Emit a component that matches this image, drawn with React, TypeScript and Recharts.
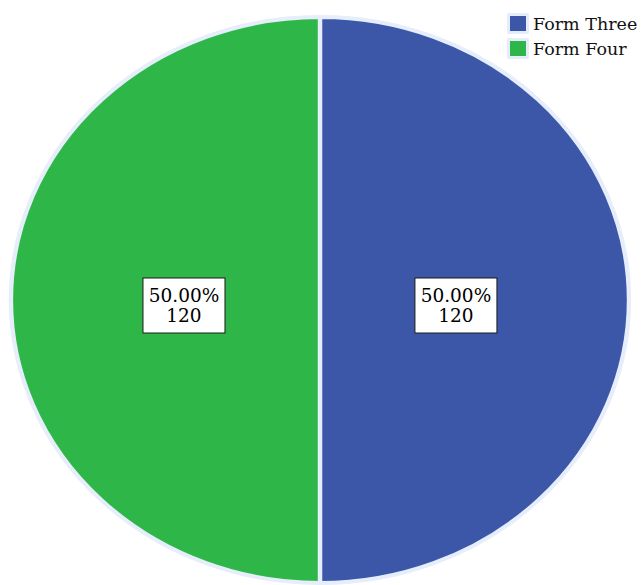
import { PieChart, Pie, Cell } from "recharts";

const categories = ["Form Three", "Form Four"];
const counts = [120, 120];
const sliceColors = ["#3D57A8", "#2EB748"];

// the original pie is a bit wider than tall, so the chart is stretched horizontally
const SX = 1.092;
const FONT = "'DejaVu Serif', serif";

const total = counts.reduce((a, b) => a + b, 0);
const data = categories.map((name, i) => ({ name, value: counts[i] }));

const RAD = Math.PI / 180;

function SliceLabel(props: any) {
  const { cx, cy, midAngle, outerRadius, value } = props;
  const lx = cx + outerRadius * 0.44 * Math.cos(-midAngle * RAD);
  const ly = cy + 5.5;
  const pct = ((value / total) * 100).toFixed(2) + "%";
  return (
    <g transform={`translate(${lx},${ly}) scale(${1 / SX},1)`}>
      <rect x={-41} y={-27.5} width={82} height={55} fill="#fff" stroke="#1a1a1a" strokeWidth={1} />
      <text x={0} y={-4} textAnchor="middle" fontFamily={FONT} fontSize={18.5} fill="#000">
        {pct}
      </text>
      <text x={0} y={16} textAnchor="middle" fontFamily={FONT} fontSize={18.5} fill="#000">
        {value}
      </text>
    </g>
  );
}

export default function App() {
  return (
    <div style={{ position: "absolute", left: 0, top: 0, width: 642, height: 585, overflow: "hidden", background: "#fff" }}>
      <div style={{ position: "absolute", left: 0, top: 0, transform: `scaleX(${SX})`, transformOrigin: "0 0" }}>
        <PieChart width={588} height={585} margin={{ top: 0, right: 0, bottom: 0, left: 0 }}>
          <Pie
            data={data}
            dataKey="value"
            nameKey="name"
            cx={293}
            cy={300}
            outerRadius={283}
            startAngle={90}
            endAngle={-270}
            stroke="#e6eefb"
            strokeWidth={4}
            label={SliceLabel}
            labelLine={false}
            isAnimationActive={false}
          >
            {data.map((d, i) => (
              <Cell key={`cell-${d.name}`} fill={sliceColors[i]} />
            ))}
          </Pie>
        </PieChart>
      </div>
      <div style={{ position: "absolute", left: 507, top: 11 }}>
        {categories.map((name, i) => (
          <div key={name} style={{ display: "flex", alignItems: "center", height: 25 }}>
            <span
              style={{
                width: 16,
                height: 15,
                background: sliceColors[i],
                border: "3px solid #e3edfb",
                borderRadius: 2,
              }}
            />
            <span style={{ marginLeft: 4, fontFamily: FONT, fontSize: 17.5, color: "#111", whiteSpace: "nowrap" }}>
              {name}
            </span>
          </div>
        ))}
      </div>
    </div>
  );
}
